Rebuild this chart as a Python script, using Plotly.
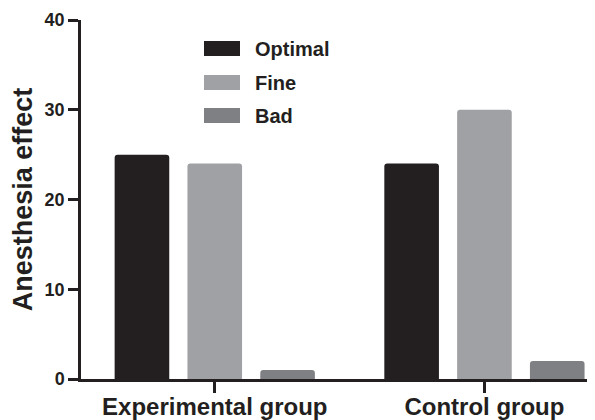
import plotly.graph_objects as go

categories = ["Experimental group", "Control group"]
series_names = ["Optimal", "Fine", "Bad"]
optimal = [25, 24]
fine = [24, 30]
bad = [1, 2]
y_ticks = [0, 10, 20, 30, 40]

colors = ["#231f20", "#a0a1a4", "#7f8083"]
values = [optimal, fine, bad]

# The page body adds an 8px offset; layout numbers below are in figure pixels.
OFF = 8
W, H = 595, 420
ML, MT = 81 - OFF, 20 - OFF
MB = H - (379 - OFF)
MR = W - (595 - OFF)
PW, PH = W - ML - MR, H - MT - MB

def sx(px):  # screen x -> paper x
    return (px - OFF - ML) / PW

def sy(py):  # screen y -> paper y
    return 1 - (py - OFF - MT) / PH

fig = go.Figure()
for name, vals, col in zip(series_names, values, colors):
    fig.add_trace(go.Bar(
        x=categories, y=vals, name=name,
        marker=dict(color=col, line=dict(width=0)),
        showlegend=False,
    ))

fnt = "Liberation Sans, Arial, sans-serif"
ink = "#231f20"

# Manual legend (wide swatches as in the reference)
shapes = []
annotations = []
leg_x0, leg_x1 = 204, 240
leg_rows = [48.5, 82.5, 115.5]
for name, col, cy in zip(series_names, colors, leg_rows):
    shapes.append(dict(
        type="rect", xref="paper", yref="paper",
        x0=sx(leg_x0), x1=sx(leg_x1),
        y0=sy(cy + 7.5), y1=sy(cy - 7.5),
        fillcolor=col, line=dict(width=0), layer="above",
    ))
    annotations.append(dict(
        text=name, xref="paper", yref="paper",
        x=sx(253), y=sy(cy),
        xanchor="left", yanchor="middle", showarrow=False,
        font=dict(size=20, family=fnt, color=ink, weight="bold"),
    ))

fig.update_layout(
    width=W, height=H,
    margin=dict(l=ML, r=MR, t=MT, b=MB, autoexpand=False),
    paper_bgcolor="white", plot_bgcolor="white",
    barmode="group", bargap=0.19, bargroupgap=0.25,
    barcornerradius=3,
    font=dict(family=fnt, color=ink, weight="bold"),
    showlegend=False,
    shapes=shapes,
    annotations=annotations,
    xaxis=dict(
        type="category", range=[-0.496, 1.41], automargin=False,
        showline=True, linecolor=ink, linewidth=2.5,
        ticks="outside", ticklen=11, tickwidth=2.5, tickcolor=ink,
        ticklabelstandoff=-7,
        tickfont=dict(size=24, family=fnt, weight="bold", color=ink),
        showgrid=False, zeroline=False,
    ),
    yaxis=dict(
        range=[0, 40], tickvals=y_ticks, automargin=False,
        showline=True, linecolor=ink, linewidth=2.5,
        ticks="outside", ticklen=10, tickwidth=2.5, tickcolor=ink,
        tickfont=dict(size=18, family=fnt, weight="bold", color=ink),
        showgrid=False, zeroline=False,
        title=dict(text="Anesthesia effect", standoff=5,
                   font=dict(size=27, family=fnt, weight="bold", color=ink)),
    ),
)

fig.write_html("out.html")
